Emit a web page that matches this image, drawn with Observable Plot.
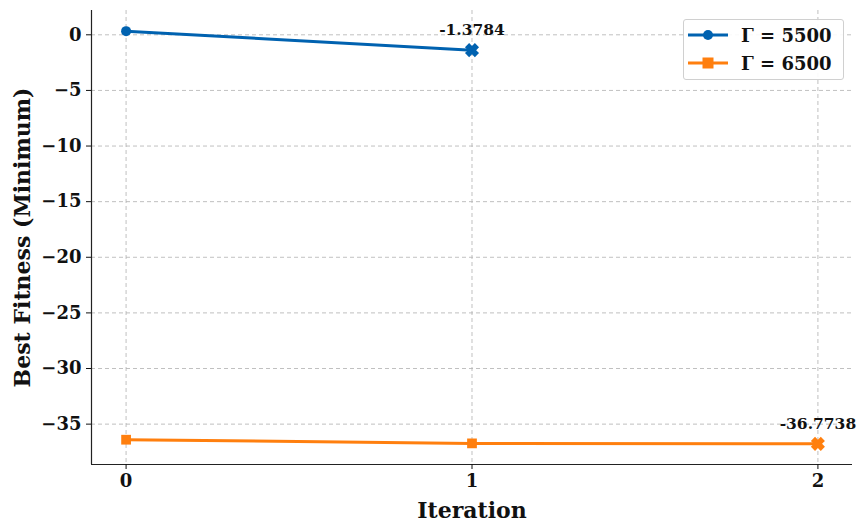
<!DOCTYPE html>
<html>
<head>
<meta charset="utf-8">
<script src="https://cdn.jsdelivr.net/npm/d3@7"></script>
<script src="https://cdn.jsdelivr.net/npm/@observablehq/plot@0.6"></script>
<style>
  body { margin: 0; background: #fff; }
  #wrap { position: relative; width: 857px; height: 522px; font-family: "DejaVu Serif", serif; }
  #legend { position: absolute; left: 683px; top: 19px; width: 161px; height: 61px; border: 1.5px solid #d0d0d0; border-radius: 3px; background: rgba(255,255,255,0.9); box-sizing: border-box; }
  #legend .row { position: absolute; left: 4px; height: 20px; display: flex; align-items: center; }
  #legend .lab { font-weight: bold; font-size: 18px; margin-left: 13px; color: #111; white-space: nowrap; }
</style>
</head>
<body>
<div id="wrap"></div>
<script>
const iterations = [0, 1, 2];
const seriesNames = ["Γ = 5500", "Γ = 6500"];
const gamma5500 = [0.33, -1.3784];
const gamma6500 = [-36.4, -36.73, -36.7738];
const seriesColors = ["#0062b0", "#ff7f0e"];
const xTicks = [0, 1, 2];
const yTicks = [-35, -30, -25, -20, -15, -10, -5, 0];
const xLabel = "Iteration";
const yLabel = "Best Fitness (Minimum)";

const rows = [];
[gamma5500, gamma6500].forEach((vals, s) => {
  vals.forEach((v, i) => rows.push({iter: iterations[i], value: v, series: seriesNames[s], last: i === vals.length - 1}));
});
const lastRows = rows.filter(d => d.last);
const midRows = rows.filter(d => !d.last);

const allVals = rows.map(d => d.value);
const yMin = d3.min(allVals), yMax = d3.max(allVals);
const yPad = (yMax - yMin) * 0.05;
const xPad = (d3.max(iterations) - d3.min(iterations)) * 0.05;
const xDomain = [d3.min(iterations) - xPad, d3.max(iterations) + xPad];
const yDomain = [yMin - yPad, yMax + yPad];

const symbolX = {
  draw(ctx, size) {
    const r = Math.sqrt(size / Math.PI);
    const a = r, w = r * 0.42;
    const pts = [[w,a],[w,w],[a,w],[a,-w],[w,-w],[w,-a],[-w,-a],[-w,-w],[-a,-w],[-a,w],[-w,w],[-w,a]];
    pts.forEach(([x, y], k) => {
      const px = (x - y) / Math.SQRT2, py = (x + y) / Math.SQRT2;
      k ? ctx.lineTo(px, py) : ctx.moveTo(px, py);
    });
    ctx.closePath();
  }
};

const minusFmt = d => d < 0 ? "\u2212" + Math.abs(d) : String(d);

const chart = Plot.plot({
  width: 857,
  height: 522,
  marginLeft: 91,
  marginRight: 5,
  marginTop: 10,
  marginBottom: 58,
  style: {fontFamily: "DejaVu Serif", fontWeight: "bold", color: "#111", background: "#fff"},
  x: {domain: xDomain},
  y: {domain: yDomain},
  color: {domain: seriesNames, range: seriesColors},
  marks: [
    Plot.gridX(xTicks, {stroke: "#b0b0b0", strokeOpacity: 0.8, strokeDasharray: "4,3"}),
    Plot.gridY(yTicks, {stroke: "#b0b0b0", strokeOpacity: 0.8, strokeDasharray: "4,3"}),
    Plot.ruleX([xDomain[0]], {stroke: "#222", strokeWidth: 1.2}),
    Plot.ruleY([yDomain[0]], {stroke: "#222", strokeWidth: 1.2}),
    Plot.axisX(xTicks, {tickSize: 5, tickPadding: 5, fontSize: 18, label: null, tickFormat: minusFmt}),
    Plot.axisY(yTicks, {tickSize: 5, tickPadding: 5, fontSize: 18, label: null, tickFormat: minusFmt}),
    Plot.text([xLabel], {frameAnchor: "bottom", lineAnchor: "middle", dy: 46, fontSize: 22, fontWeight: "bold"}),
    Plot.text([yLabel], {frameAnchor: "left", textAnchor: "middle", lineAnchor: "middle", dx: -69, rotate: -90, fontSize: 22, fontWeight: "bold"}),
    Plot.line(rows, {x: "iter", y: "value", z: "series", stroke: "series", strokeWidth: 3}),
    Plot.dot(midRows.filter(d => d.series === seriesNames[0]), {x: "iter", y: "value", fill: "series", r: 5, symbol: "circle"}),
    Plot.dot(midRows.filter(d => d.series === seriesNames[1]), {x: "iter", y: "value", fill: "series", r: 5.5, symbol: "square"}),
    Plot.dot(lastRows, {x: "iter", y: "value", fill: "series", r: 7, symbol: symbolX}),
    Plot.text(lastRows, {x: "iter", y: "value", text: d => d.value.toFixed(4), dy: -20, fontSize: 15.5, fontWeight: "bold", fill: "#111"})
  ]
});
document.getElementById("wrap").appendChild(chart);

// legend
const legend = document.createElement("div");
legend.id = "legend";
seriesNames.forEach((name, i) => {
  const row = document.createElement("div");
  row.className = "row";
  row.style.top = (5 + i * 28) + "px";
  const marker = i === 0
    ? `<circle cx="20" cy="10" r="5" fill="${seriesColors[i]}"/>`
    : `<rect x="14.5" y="4.5" width="11" height="11" fill="${seriesColors[i]}"/>`;
  row.innerHTML = `<svg width="40" height="20"><line x1="0" x2="40" y1="10" y2="10" stroke="${seriesColors[i]}" stroke-width="3"/>${marker}</svg><span class="lab">${name}</span>`;
  legend.appendChild(row);
});
document.getElementById("wrap").appendChild(legend);
</script>
</body>
</html>
